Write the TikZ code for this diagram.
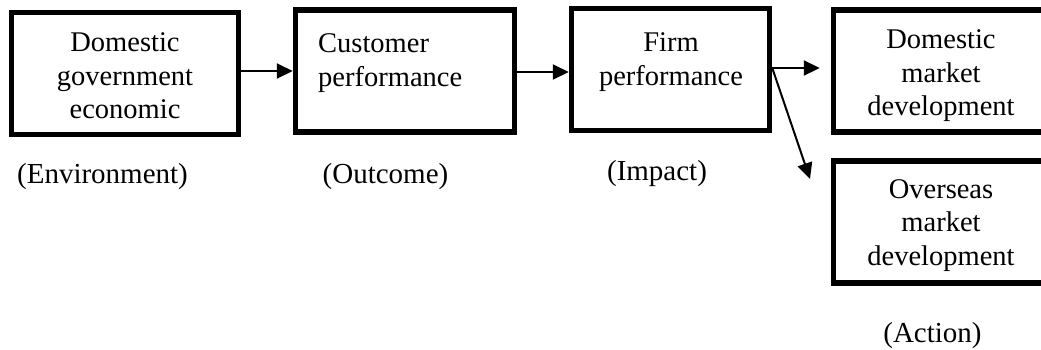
\documentclass[tikz,border=0pt]{standalone}
\usepackage{fontspec}
\setmainfont{Liberation Serif}
\usetikzlibrary{arrows.meta}
\begin{document}
\begin{tikzpicture}[x=1pt,y=-1pt,
  box/.style={draw, line width=5.5pt, minimum width=#1, minimum height=122pt, inner sep=0pt},
  txt/.style={font=\fontsize{28.5}{33.5}\selectfont, inner sep=0pt, anchor=base},
  lbl/.style={font=\fontsize{29}{33.5}\selectfont, inner sep=0pt, anchor=base},
  link/.style={line width=2pt, -{Triangle[length=16pt,width=15pt]}}]
\useasboundingbox (0,0) rectangle (1041,349);

% boxes
\node[box=227pt] (b1) at (125,73.5) {};
\node[box=219pt] (b2) at (405,71) {};
\node[box=198pt] (b3) at (670.5,69.5) {};
\node[box=215pt] (b4) at (941,71) {};
\node[box=215pt] (b5) at (941,222) {};

% box texts (placed by the baseline of their last line)
\node[txt, align=center] (t1) at (125,118.5) {Domestic\\government\\economic};
\node[txt, anchor=base west, align=left] (t2) at (318,86) {Customer\\performance};
\node[txt, align=center] (t3) at (671,85) {Firm\\performance};
\node[txt, align=center] (t4) at (941,115.5) {Domestic\\market\\development};
\node[txt, align=center] (t5) at (941,265) {Overseas\\market\\development};

% stage labels
\node[lbl] (l1) at (102.5,183) {(Environment)};
\node[lbl] (l2) at (385.5,183) {(Outcome)};
\node[lbl] (l3) at (657,180) {(Impact)};
\node[lbl] (l4) at (932.5,342) {(Action)};

% connectors
\coordinate (fork) at ([yshift=1.5pt]b3.east);
\coordinate (tip) at (810,179);
\draw[link] (b1.east |- b2.west) -- (b2.west);
\draw[link] ([yshift=-1pt]b2.east) -- ([yshift=-1pt]b2.east -| b3.west);
\draw[link, shorten >=11pt] (fork) -- (fork -| b4.west);
\draw[link] (fork) -- (tip);
\end{tikzpicture}
\end{document}
